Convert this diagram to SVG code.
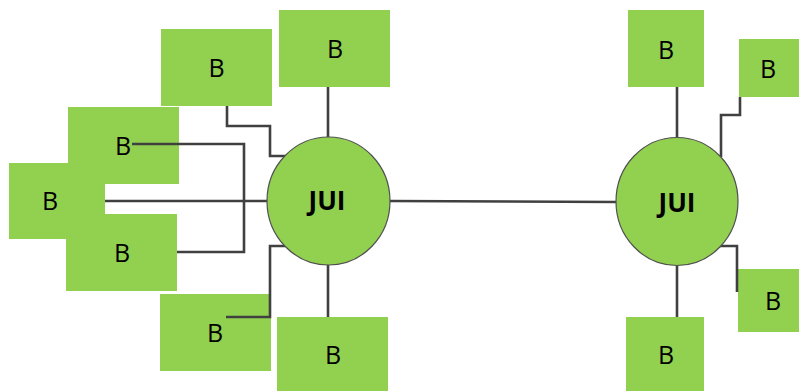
<svg xmlns="http://www.w3.org/2000/svg" width="799" height="391" viewBox="0 0 799 391">
<style>
.box{fill:#92D050;}
.hub{fill:#92D050;stroke:#505050;stroke-width:1.2;}
.lbl{font-family:"Open Sans","Liberation Sans",sans-serif;font-size:25px;fill:#000;text-anchor:middle;}
.hl{font-family:"Open Sans","Liberation Sans",sans-serif;font-size:26px;font-weight:bold;fill:#000;text-anchor:middle;}
.con{fill:none;stroke:#404040;stroke-width:2.6;}
</style>
<rect width="799" height="391" fill="#fff"/>
<g id="b1"><rect class="box" x="279" y="10" width="111" height="77"/><text class="lbl" x="335" y="58">B</text></g>
<g id="b2"><rect class="box" x="161" y="29" width="111" height="77"/><text class="lbl" x="216.5" y="77">B</text></g>
<g id="b3"><rect class="box" x="68" y="107" width="111" height="77"/></g>
<g id="b4"><rect class="box" x="9" y="163" width="96" height="76"/><text class="lbl" x="50" y="210">B</text></g>
<g id="b3t"><text class="lbl" x="123" y="155">B</text></g>
<g id="b5"><rect class="box" x="66" y="214" width="111" height="77"/><text class="lbl" x="122" y="261.5">B</text></g>
<g id="b6"><rect class="box" x="160" y="294" width="111" height="77"/><text class="lbl" x="215" y="341.5">B</text></g>
<g id="b7"><rect class="box" x="277" y="317" width="111" height="74"/><text class="lbl" x="333" y="364">B</text></g>
<g id="b8"><rect class="box" x="628" y="10" width="76" height="77"/><text class="lbl" x="666" y="59">B</text></g>
<g id="b9"><rect class="box" x="739" y="39" width="60" height="58"/><text class="lbl" x="768" y="78">B</text></g>
<g id="b10"><rect class="box" x="738" y="269" width="61" height="63"/><text class="lbl" x="773" y="310">B</text></g>
<g id="b11"><rect class="box" x="626" y="317" width="78" height="74"/><text class="lbl" x="666" y="364">B</text></g>
<g id="connectors">
<path class="con" d="M328,87 V138"/>
<path class="con" d="M227,106 V126 H270 V156 H285"/>
<path class="con" d="M132,144 H244 V252 H177"/>
<path class="con" d="M105,201 H268"/>
<path class="con" d="M226,317 H270 V246 H285"/>
<path class="con" d="M328,264 V317"/>
<path class="con" d="M389,201 L617,202"/>
<path class="con" d="M677,87 V138"/>
<path class="con" d="M740,97 V115 H721 V157"/>
<path class="con" d="M720,246 H737 V292"/>
<path class="con" d="M677,265 V317"/>
</g>
<g id="jui1"><ellipse class="hub" cx="328.5" cy="201" rx="61.5" ry="64"/><text class="hl" x="327" y="209.5">JUI</text></g>
<g id="jui2"><ellipse class="hub" cx="677" cy="201.5" rx="61" ry="64"/><text class="hl" x="677" y="212">JUI</text></g>
</svg>
